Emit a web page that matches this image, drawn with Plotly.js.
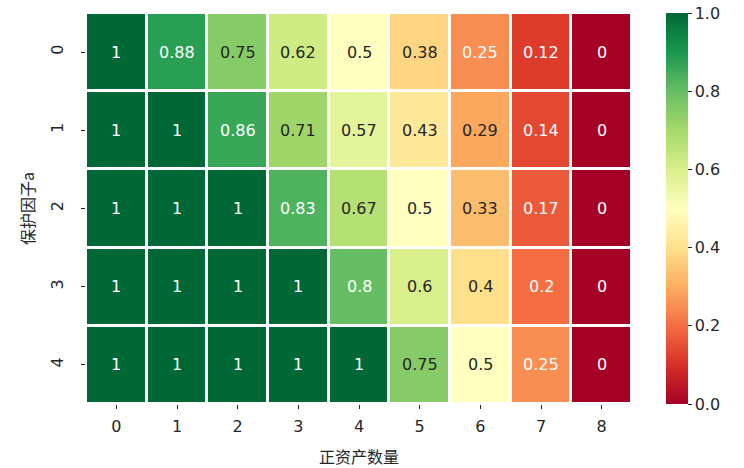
<!DOCTYPE html>
<html>
<head>
<meta charset="utf-8">
<script src="https://cdn.plot.ly/plotly-3.0.1.min.js"></script>
<style>html,body{margin:0;padding:0;background:#fff;}#chart{width:744px;height:468px;}</style>
</head>
<body>
<div id="chart"></div>
<script>
const xLabels = ['0','1','2','3','4','5','6','7','8'];
const yLabels = ['0','1','2','3','4'];
const row0 = [1, 0.88, 0.75, 0.62, 0.5, 0.38, 0.25, 0.12, 0];
const row1 = [1, 1, 0.86, 0.71, 0.57, 0.43, 0.29, 0.14, 0];
const row2 = [1, 1, 1, 0.83, 0.67, 0.5, 0.33, 0.17, 0];
const row3 = [1, 1, 1, 1, 0.8, 0.6, 0.4, 0.2, 0];
const row4 = [1, 1, 1, 1, 1, 0.75, 0.5, 0.25, 0];
const zRows = [row0, row1, row2, row3, row4];

const rdylgn = [
  [0.0,'#a50026'],[0.1,'#d73027'],[0.2,'#f46d43'],[0.3,'#fdae61'],[0.4,'#fee08b'],
  [0.5,'#ffffbf'],[0.6,'#d9ef8b'],[0.7,'#a6d96a'],[0.8,'#66bd63'],[0.9,'#1a9850'],[1.0,'#006837']
];
function hex2rgb(h){return [parseInt(h.slice(1,3),16),parseInt(h.slice(3,5),16),parseInt(h.slice(5,7),16)];}
function colorAt(v){
  for(let i=0;i<rdylgn.length-1;i++){
    const [a,ca]=rdylgn[i],[b,cb]=rdylgn[i+1];
    if(v>=a && v<=b){
      const t=(v-a)/(b-a), A=hex2rgb(ca), B=hex2rgb(cb);
      return A.map((c,k)=>c+(B[k]-c)*t);
    }
  }
  return hex2rgb(rdylgn[rdylgn.length-1][1]);
}
function lum(rgb){
  const l=rgb.map(c=>{c/=255;return c<=0.03928?c/12.92:Math.pow((c+0.055)/1.055,2.4);});
  return 0.2126*l[0]+0.7152*l[1]+0.0722*l[2];
}
const annotations=[];
zRows.forEach((row,i)=>{
  row.forEach((v,j)=>{
    annotations.push({
      x:xLabels[j], y:yLabels[i], xref:'x', yref:'y', text:String(v), showarrow:false,
      font:{family:'DejaVu Sans', size:16, color: lum(colorAt(v))<0.408?'#ffffff':'#262626'}
    });
  });
});

const trace={
  type:'heatmap', x:xLabels, y:yLabels, z:zRows, zmin:0, zmax:1,
  colorscale:rdylgn, xgap:3, ygap:3, hoverinfo:'skip',
  colorbar:{
    x:1.062, xanchor:'left', xref:'paper', xpad:0, ypad:0, y:0.5, yanchor:'middle', len:1.0, lenmode:'fraction',
    thickness:22, thicknessmode:'pixels', outlinewidth:0,
    ticks:'outside', ticklen:4, tickwidth:1, tickcolor:'#262626',
    tickvals:[0,0.2,0.4,0.6,0.8,1.0], ticktext:['0.0','0.2','0.4','0.6','0.8','1.0'],
    tickfont:{family:'DejaVu Sans', size:16, color:'#262626'}
  }
};
const layout={
  width:744, height:468,
  margin:{l:86, r:112, t:13, b:64, pad:0},
  paper_bgcolor:'#ffffff', plot_bgcolor:'#ffffff',
  xaxis:{
    type:'category', showgrid:false, zeroline:false, showline:false, automargin:false,
    ticks:'outside', ticklen:4, tickwidth:1, tickcolor:'#262626', ticklabelstandoff:4,
    tickfont:{family:'DejaVu Sans', size:16, color:'#262626'},
    title:{text:'正资产数量', font:{family:'Noto Sans CJK SC', size:16, color:'#262626'}, standoff:16}
  },
  yaxis:{
    type:'category', autorange:'reversed', showgrid:false, zeroline:false, showline:false, automargin:false,
    ticks:'outside', ticklen:4, tickwidth:1, tickcolor:'#262626', tickangle:-90, ticklabelstandoff:12,
    tickfont:{family:'DejaVu Sans', size:16, color:'#262626'},
    title:{text:'保护因子a', font:{family:'Noto Sans CJK SC', size:16, color:'#262626'}, standoff:8}
  },
  annotations:annotations,
  showlegend:false
};
Plotly.newPlot('chart',[trace],layout,{displayModeBar:false,staticPlot:true});
</script>
</body>
</html>
